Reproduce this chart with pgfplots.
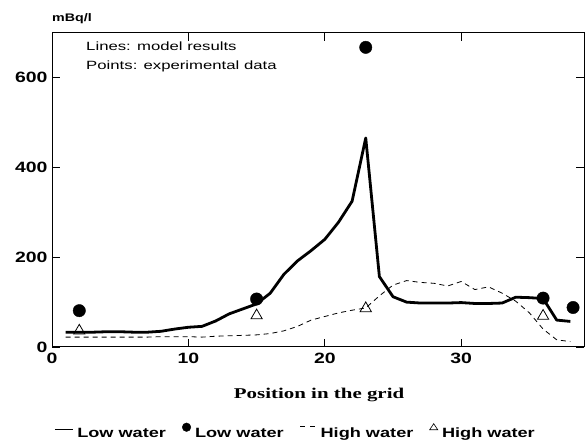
\documentclass[border=0pt]{standalone}
\usepackage{pgfplots}
\pgfplotsset{compat=1.18}
\usepackage{fontspec}
\setmainfont{Liberation Sans}
\newfontfamily\tickf[FakeStretch=1.3]{Liberation Sans Bold}
\newfontfamily\labf[FakeStretch=1.4]{Liberation Sans}
\newfontfamily\legf[FakeStretch=1.35]{Liberation Sans Bold}
\newfontfamily\unitf[FakeStretch=1.3]{Liberation Sans Bold}
\newfontfamily\titf[FakeStretch=1.4]{Liberation Serif Bold}
\begin{document}
\begin{tikzpicture}
\begin{axis}[
  name=ax,
  width=532bp, height=314bp, scale only axis,
  xmin=0, xmax=39, ymin=0, ymax=700,
  xtick={0,10,20,30}, ytick={0,200,400,600},
  tick align=inside, major tick length=8bp,
  axis line style={line width=1bp},
  every tick/.style={black, line width=0.9bp},
  clip=false,
  /pgf/number format/assume math mode=true,
  tick label style={font=\tickf\fontsize{15}{15}\selectfont},
  xticklabel style={yshift=-3bp},
  yticklabel style={xshift=-1bp},
  xlabel={\titf\fontsize{15}{15}\selectfont Position in the grid},
  xlabel style={at={(axis description cs:0.502,-0.153)}, anchor=center},
  legend columns=4,
  legend style={at={(axis description cs:0.458,-0.27)}, anchor=center, draw=none, fill=none,
    font=\legf\fontsize{13.5}{13.5}\selectfont,
    /tikz/every odd column/.append style={column sep=2bp},
    /tikz/every even column/.append style={column sep=14bp},
    inner sep=0pt},
]
\addplot[black, line width=2.8bp, line join=round,
  legend image code/.code={\draw[line width=0.8bp] (0bp,4bp) -- (18bp,4bp);}]
  coordinates {(1,33)(2,33)(3,33)(4,34)(5,34)(6,33)(7,33)(8,35)(9,40)(10,44)(11,46)(12,58)(13,74)(14,85)(15,96)(16,120)(17,162)(18,192)(19,215)(20,240)(21,278)(22,325)(23,466)(24,157)(25,112)(26,100)(27,98)(28,98)(29,98)(30,99)(31,97)(32,97)(33,98)(34,111)(35,110)(36,108)(37,60)(38,57)};
\addlegendentry{Low water}
\addplot[only marks, mark=*, mark size=6.2bp, black,
  legend image code/.code={\fill (4.5bp,6bp) circle (4.3bp);}]
  coordinates {(2,81)(15,107)(23,668)(36,109)(38.2,88)};
\addlegendentry{Low water}
\addplot[black, line width=0.8bp, dash pattern=on 5bp off 4bp,
  legend image code/.code={\draw[line width=0.8bp, dash pattern=on 5bp off 5bp] (0bp,7bp) -- (16bp,7bp);}]
  coordinates {(1,22)(2,22)(3,22)(4,22)(5,22)(6,22)(7,22)(8,23)(9,23)(10,23)(11,22)(12,24)(13,25)(14,26)(15,27)(16,30)(17,36)(18,46)(19,60)(20,68)(21,76)(22,82)(23,87)(24,114)(25,138)(26,148)(27,144)(28,142)(29,136)(30,146)(31,128)(32,134)(33,120)(34,102)(35,76)(36,40)(37,16)(38,12)};
\addlegendentry{High water}
\addplot[only marks, mark=triangle, mark size=6.5bp, black, mark options={fill=white, line width=0.8bp},
  legend image code/.code={\draw[line width=0.6bp] (0bp,3.5bp) -- (8bp,3.5bp) -- (4bp,9.5bp) -- cycle;}]
  coordinates {(2,36)(15,70)(23,86)(36,69)};
\addlegendentry{High water}
\node[anchor=west, inner sep=0pt, align=left, font=\labf\fontsize{12}{18.7}\selectfont] at (rel axis cs:0.064,0.9236) {Lines: model results\\Points: experimental data};
\end{axis}
\node[anchor=base west, inner sep=0pt, font=\unitf\fontsize{11}{11}\selectfont] at ([shift={(0bp,11.5bp)}]ax.north west) {mBq/l};
\pgfresetboundingbox
\path[use as bounding box] (ax.south west) ++(-52bp,-100bp) rectangle ([shift={(3bp,33bp)}]ax.north east);
\end{tikzpicture}
\end{document}
